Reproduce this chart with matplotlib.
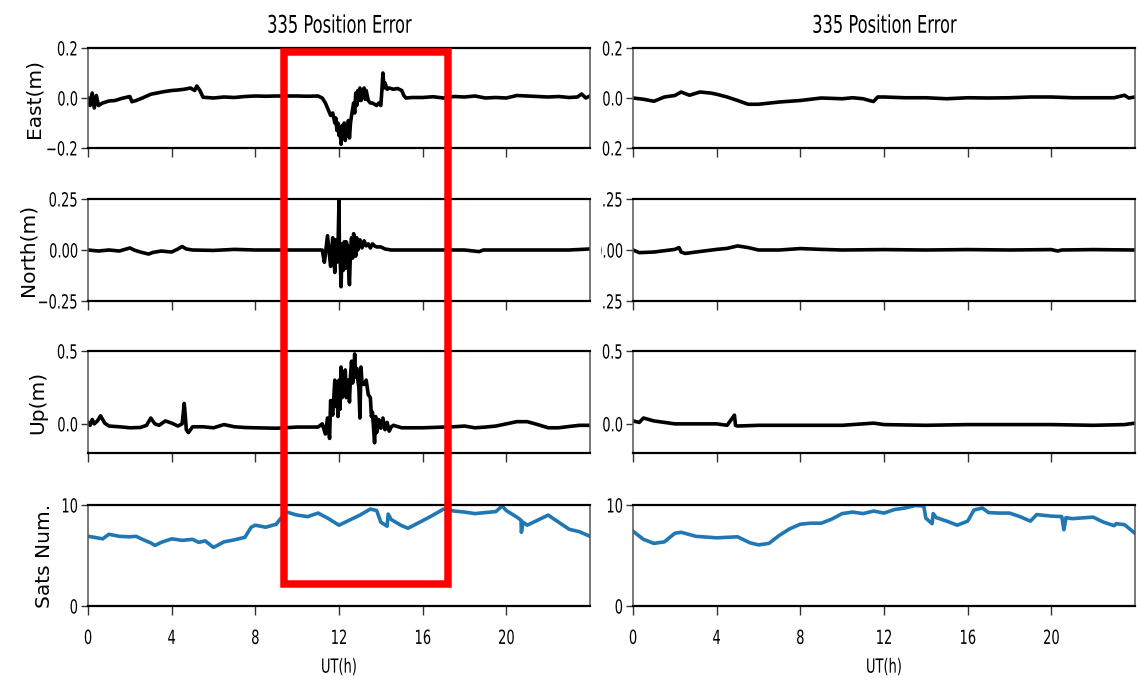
import numpy as np
import matplotlib
matplotlib.use("Agg")
import matplotlib.pyplot as plt
from matplotlib.patches import Rectangle
from matplotlib.patheffects import AbstractPathEffect
from matplotlib.transforms import Affine2D, Bbox, TransformedBbox, blended_transform_factory

# ----------------------------------------------------------------------
# data (hours, value)
# ----------------------------------------------------------------------
TITLE = "335 Position Error"
ROW_LABELS = ["East(m)", "North(m)", "Up(m)", "Sats Num."]
X_TICKS = [0, 4, 8, 12, 16, 20]
X_LABEL = "UT(h)"
Y_TICKS = [[-0.2, 0.0, 0.2], [-0.25, 0.0, 0.25], [0.0, 0.5], [0, 10]]
Y_LIMS = [(-0.2, 0.2), (-0.25, 0.25), (-0.2, 0.5), (0, 10)]
HIGHLIGHT_HOURS = (9.39, 17.22)

L_EAST_T = [0, 0.1, 0.2, 0.3, 0.4, 0.5, 0.7, 1.0, 1.3, 1.6,
            1.9, 2.0, 2.1, 2.3, 2.6, 3.0, 3.3, 3.6, 4.0, 4.3,
            4.6, 4.9, 5.1, 5.2, 5.35, 5.5, 6.0, 6.5, 7.0, 7.5,
            8.0, 8.5, 9.0, 9.5, 10.0, 10.5, 11.0, 11.2, 11.35, 11.5,
            11.6, 11.7, 11.8, 11.85, 11.9, 11.95, 12.0, 12.05, 12.1, 12.15,
            12.2, 12.25, 12.3, 12.35, 12.4, 12.45, 12.5, 12.55, 12.6, 12.7,
            12.75, 12.8, 12.85, 12.9, 12.95, 13.0, 13.05, 13.1, 13.2, 13.25,
            13.3, 13.4, 13.5, 13.6, 13.7, 13.8, 13.9, 14.0, 14.05, 14.1,
            14.15, 14.2, 14.3, 14.4, 14.6, 14.8, 15.0, 15.1, 15.2, 15.5,
            16, 16.5, 17, 17.5, 18, 18.5, 19, 19.5, 20, 20.5,
            21, 21.5, 22, 22.5, 23, 23.4, 23.6, 23.8, 24]
L_EAST_V = [0.0, -0.03, 0.02, -0.04, 0.01, -0.03, -0.02, -0.012, -0.01, -0.002,
            0.004, 0.006, -0.015, -0.01, 0.0, 0.015, 0.02, 0.025, 0.03, 0.032,
            0.035, 0.04, 0.03, 0.048, 0.03, 0.003, 0.0, 0.004, 0.002, 0.006,
            0.008, 0.007, 0.008, 0.008, 0.008, 0.007, 0.008, 0.0, -0.02, -0.05,
            -0.07, -0.06, -0.1, -0.08, -0.13, -0.1, -0.15, -0.12, -0.185, -0.11,
            -0.16, -0.1, -0.17, -0.12, -0.15, -0.09, -0.16, -0.1, -0.07, -0.02,
            -0.06, 0.02, -0.03, 0.03, -0.01, 0.04, -0.01, 0.02, 0.04, -0.005,
            0.03, -0.01, -0.02, -0.02, -0.025, -0.03, -0.02, -0.03, 0.03, 0.1,
            0.04, 0.06, 0.035, 0.04, 0.035, 0.038, 0.03, 0.01, 0.0, 0.002,
            0.002, 0.005, 0.0, 0.006, 0.004, 0.008, 0.0, 0.002, 0.0, 0.01,
            0.008, 0.006, 0.004, 0.006, 0.002, 0.004, 0.016, 0.0, 0.008]

L_NORTH_T = [0, 0.5, 1.0, 1.5, 2.0, 2.2, 2.5, 2.9, 3.1, 3.5,
             4.0, 4.3, 4.5, 4.7, 5.0, 6.0, 7.0, 8.0, 9.0, 10.0,
             11.0, 11.2, 11.3, 11.35, 11.45, 11.55, 11.6, 11.7, 11.75, 11.8,
             11.85, 11.9, 11.95, 12.0, 12.02, 12.05, 12.1, 12.15, 12.2, 12.25,
             12.3, 12.35, 12.4, 12.45, 12.5, 12.55, 12.6, 12.65, 12.7, 12.8,
             12.85, 12.9, 13.0, 13.1, 13.2, 13.3, 13.4, 13.5, 13.6, 13.7,
             13.8, 14.0, 14.2, 14.5, 15, 16, 17, 18, 18.7, 18.9,
             20, 21, 22, 23, 24]
L_NORTH_V = [0.0, -0.005, 0.0, -0.005, 0.01, 0.0, -0.01, -0.02, -0.012, -0.005,
             -0.01, 0.005, 0.017, 0.005, 0.0, -0.002, 0.003, 0.0, 0.0, 0.0,
             0.0, 0.0, -0.06, -0.02, 0.07, -0.03, -0.08, 0.06, -0.04, -0.11,
             0.05, -0.06, 0.0, 0.245, 0.0, -0.03, -0.18, 0.03, -0.1, 0.04,
             -0.09, 0.04, 0.02, -0.08, -0.17, 0.0, 0.06, -0.04, 0.08, -0.03,
             0.06, 0.0, 0.05, 0.01, 0.045, 0.02, 0.03, 0.01, 0.03, 0.02,
             0.015, 0.015, 0.005, 0.0, 0.0, 0.0, 0.0, 0.0, -0.008, 0.0,
             0.0, 0.0, 0.0, 0.0, 0.005]

L_UP_T = [0, 0.1, 0.2, 0.3, 0.45, 0.6, 0.8, 1.0, 1.5, 2.0,
          2.5, 2.8, 3.0, 3.2, 3.4, 3.7, 4.0, 4.3, 4.5, 4.6,
          4.65, 4.7, 4.8, 5.0, 5.5, 6.0, 6.5, 7.0, 7.5, 8.0,
          9.0, 10.0, 11.0, 11.2, 11.35, 11.45, 11.55, 11.6, 11.7, 11.8,
          11.85, 11.9, 11.95, 12.0, 12.05, 12.1, 12.15, 12.2, 12.25, 12.3,
          12.35, 12.4, 12.45, 12.5, 12.55, 12.6, 12.65, 12.7, 12.75, 12.8,
          12.85, 12.9, 12.95, 13.0, 13.05, 13.1, 13.2, 13.3, 13.4, 13.5,
          13.55, 13.6, 13.7, 13.75, 13.8, 13.9, 14.0, 14.1, 14.2, 14.3,
          14.4, 14.5, 14.6, 15.0, 16.0, 17.0, 17.5, 18.0, 18.5, 19.0,
          19.5, 20.0, 20.5, 21.0, 21.5, 22.0, 22.5, 23.0, 23.5, 24]
L_UP_V = [0.01, -0.01, 0.03, 0.0, 0.02, 0.055, 0.005, -0.015, -0.02, -0.027,
          -0.025, -0.01, 0.04, 0.0, -0.01, 0.02, 0.005, -0.015, 0.0, 0.14,
          0.06, -0.04, -0.06, -0.02, -0.02, -0.027, -0.005, -0.02, -0.025, -0.027,
          -0.03, -0.022, -0.022, 0.0, -0.07, 0.04, -0.1, 0.16, 0.06, 0.3,
          0.12, 0.26, 0.05, 0.3, 0.1, 0.39, 0.18, 0.2, 0.35, 0.37,
          0.18, 0.22, 0.3, 0.15, 0.33, 0.43, 0.28, 0.35, 0.48, 0.32,
          0.38, 0.3, 0.25, 0.04, 0.39, 0.28, 0.27, 0.3, 0.2, 0.18,
          0.05, 0.08, -0.13, 0.05, -0.06, 0.03, -0.03, 0.04, -0.04, 0.01,
          -0.05, -0.02, -0.01, -0.027, -0.027, -0.022, -0.02, -0.015, -0.027, -0.022,
          -0.015, 0.0, 0.015, 0.015, -0.005, -0.027, -0.027, -0.018, -0.01, -0.01]

L_SATS_T = [0, 0.3, 0.7, 1.0, 1.5, 2.0, 2.3, 2.6, 3.0, 3.2,
            3.5, 4.0, 4.5, 5.0, 5.3, 5.6, 6.0, 6.5, 7.0, 7.5,
            7.8, 8.0, 8.5, 9.0, 9.3, 9.5, 10.0, 10.5, 11.0, 11.5,
            12.0, 12.3, 12.5, 13.0, 13.5, 13.8, 14.0, 14.3, 14.35, 14.5,
            15.0, 15.3, 16.0, 16.5, 17.0, 17.5, 18.0, 18.5, 19.0, 19.5,
            19.8, 20.0, 20.5, 20.7, 20.72, 20.8, 21.0, 21.5, 22.0, 22.5,
            23.0, 23.5, 24]
L_SATS_V = [6.9, 6.8, 6.65, 7.1, 6.9, 6.85, 6.9, 6.6, 6.25, 6.0,
            6.3, 6.65, 6.5, 6.6, 6.3, 6.45, 5.8, 6.35, 6.55, 6.8,
            7.8, 8.0, 7.8, 8.1, 8.9, 9.3, 9.0, 8.85, 9.2, 8.65,
            8.0, 8.3, 8.5, 9.0, 9.6, 9.45, 8.3, 7.9, 9.1, 8.55,
            7.95, 7.7, 8.45, 9.0, 9.6, 9.4, 9.3, 9.15, 9.25, 9.35,
            9.9, 9.45, 8.8, 8.5, 7.3, 8.3, 8.0, 8.5, 9.0, 8.3,
            7.6, 7.35, 6.9]

R_EAST_T = [0, 0.5, 1.0, 1.5, 2.0, 2.3, 2.7, 3.2, 3.7, 4.0,
            4.5, 5.0, 5.5, 6.0, 7.0, 8.0, 9.0, 10.0, 10.5, 11.0,
            11.3, 11.5, 11.7, 12.0, 13.0, 14.0, 15.0, 16.0, 17.0, 18.0,
            19.0, 20.0, 21.0, 22.0, 23.0, 23.5, 23.7, 24]
R_EAST_V = [0.0, -0.005, -0.013, 0.004, 0.01, 0.024, 0.011, 0.024, 0.02, 0.015,
            0.004, -0.01, -0.025, -0.025, -0.016, -0.01, 0.0, -0.003, 0.001, -0.003,
            -0.01, -0.014, 0.004, 0.004, 0.001, 0.001, -0.003, 0.001, 0.0, 0.001,
            0.004, 0.004, 0.001, 0.001, 0.001, 0.011, 0.0, 0.004]

R_NORTH_T = [0, 0.3, 1.0, 2.0, 2.2, 2.3, 2.5, 3.0, 4.0, 4.5,
             5.0, 5.5, 6.0, 7.0, 8.0, 9.0, 10.0, 12.0, 14.0, 16.0,
             18.0, 20.0, 20.3, 20.5, 22.0, 24]
R_NORTH_V = [0.0, -0.013, -0.01, 0.003, 0.012, -0.01, -0.017, -0.01, 0.003, 0.008,
             0.02, 0.012, 0.0, 0.0, 0.007, 0.003, 0.0, 0.002, 0.0, 0.002,
             0.0, 0.002, -0.005, 0.0, 0.002, 0.0]

R_UP_T = [0, 0.3, 0.5, 1.0, 2.0, 3.0, 4.0, 4.5, 4.85, 4.9,
          5.0, 6.0, 8.0, 10.0, 11.5, 12.0, 14.0, 16.0, 18.0, 20.0,
          22.0, 23.5, 24]
R_UP_V = [0.02, 0.01, 0.04, 0.02, 0.0, 0.0, 0.0, -0.01, 0.06, -0.01,
          -0.015, -0.01, -0.01, -0.01, 0.005, -0.005, -0.01, -0.005, -0.005, -0.005,
          -0.01, -0.005, 0.005]

R_SATS_T = [0, 0.5, 1.0, 1.5, 2.0, 2.3, 3.0, 4.0, 5.0, 5.2,
            5.6, 6.0, 6.5, 7.0, 7.5, 8.0, 8.5, 9.0, 9.5, 10.0,
            10.5, 11.0, 11.5, 12.0, 12.5, 13.0, 13.5, 13.9, 14.0, 14.3,
            14.35, 14.5, 15.0, 15.5, 16.0, 16.3, 16.7, 17.0, 17.5, 18.0,
            18.5, 19.0, 19.3, 20.0, 20.5, 20.6, 20.7, 21.0, 22.0, 22.5,
            23.0, 23.1, 23.5, 24]
R_SATS_V = [7.4, 6.6, 6.2, 6.35, 7.2, 7.3, 6.9, 6.75, 6.85, 6.65,
            6.25, 6.05, 6.2, 7.0, 7.65, 8.1, 8.2, 8.2, 8.6, 9.15,
            9.3, 9.15, 9.4, 9.2, 9.55, 9.7, 9.95, 9.9, 8.7, 8.15,
            9.15, 8.75, 8.4, 8.0, 8.4, 9.5, 9.7, 9.25, 9.2, 9.2,
            8.85, 8.4, 9.05, 8.9, 8.85, 7.55, 8.75, 8.65, 8.8, 8.3,
            7.95, 8.15, 8.05, 7.2]

LEFT = [(L_EAST_T, L_EAST_V), (L_NORTH_T, L_NORTH_V), (L_UP_T, L_UP_V), (L_SATS_T, L_SATS_V)]
RIGHT = [(R_EAST_T, R_EAST_V), (R_NORTH_T, R_NORTH_V), (R_UP_T, R_UP_V), (R_SATS_T, R_SATS_V)]


# ----------------------------------------------------------------------
# the reference text looks horizontally squeezed: squeeze the glyphs
# at draw time, keeping them as normal text objects
# ----------------------------------------------------------------------
class SqueezeX(AbstractPathEffect):
    def __init__(self, sx=0.67, anchor="center"):
        super().__init__()
        self.sx = sx
        self.anchor = anchor

    def draw_path(self, renderer, gc, tpath, affine, rgbFace=None):
        ext = tpath.get_extents(affine)
        cx = {"left": ext.x0, "center": 0.5 * (ext.x0 + ext.x1), "right": ext.x1}[self.anchor]
        squeeze = Affine2D().translate(-cx, 0).scale(self.sx, 1.0).translate(cx, 0)
        renderer.draw_path(gc, tpath, affine + squeeze, rgbFace)


# ----------------------------------------------------------------------
# layout
# ----------------------------------------------------------------------
W, H = 1137, 683
COL_X = [88 / W, 633 / W]
COL_W = 502 / W
ROWS = [(48, 148), (199, 301), (351, 453), (505, 606)]   # pixel top/bottom
YLABEL_X = [-0.088, -0.1, -0.082, -0.068]                  # axes coords

fig = plt.figure(figsize=(W / 100, H / 100), dpi=100)


def style_axes(ax, row, is_bottom):
    ax.set_xlim(0, 24)
    ax.set_ylim(*Y_LIMS[row])
    ax.set_xticks(X_TICKS)
    ax.set_yticks(Y_TICKS[row])
    for side in ["top", "bottom"]:
        ax.spines[side].set_linewidth(1.6)
        ax.spines[side].set_color("black")
    for side in ["left", "right"]:
        ax.spines[side].set_linewidth(1.1)
        ax.spines[side].set_color("#555555")
    ax.tick_params(axis="x", direction="out", length=6.5, width=1.0, pad=10,
                   color="#333333", labelbottom=is_bottom, labelsize=14)
    ax.tick_params(axis="y", direction="out", length=5, width=1.0, pad=2,
                   color="#333333", labelsize=14)
    for lab in ax.get_xticklabels():
        lab.set_path_effects([SqueezeX(anchor="center")])
    for lab in ax.get_yticklabels():
        lab.set_path_effects([SqueezeX(anchor="right")])


axes = {}
for col, series in enumerate([LEFT, RIGHT]):
    for row, (t, v) in enumerate(series):
        top, bot = ROWS[row]
        ax = fig.add_axes([COL_X[col], 1 - bot / H, COL_W, (bot - top) / H])
        color = "#1f77b4" if row == 3 else "black"
        ax.plot(t, v, color=color, linewidth=2.6)
        style_axes(ax, row, row == 3)
        if row == 0:
            ttl = ax.set_title(TITLE, fontsize=17.5, pad=11)
            ttl.set_path_effects([SqueezeX(anchor="center")])
        if row == 3:
            xl = ax.set_xlabel(X_LABEL, fontsize=14, labelpad=7)
            xl.set_path_effects([SqueezeX(anchor="center")])
        if col == 0:
            ax.set_ylabel(ROW_LABELS[row], fontsize=14.5)
            ax.yaxis.set_label_coords(YLABEL_X[row], 0.5)
        axes[(col, row)] = ax

# right-hand tick labels are cut off on their left side in the reference
clip = TransformedBbox(Bbox.from_extents(601 / W, 0, 1, 1), fig.transFigure)
for row in range(4):
    for lab in axes[(1, row)].get_yticklabels():
        lab.set_clip_box(clip)
        lab.set_clip_on(True)

# red highlight box spanning the left column
blend = blended_transform_factory(axes[(0, 3)].transData, fig.transFigure)
y0, y1 = 1 - 584 / H, 1 - 52 / H
box = Rectangle((HIGHLIGHT_HOURS[0], y0), HIGHLIGHT_HOURS[1] - HIGHLIGHT_HOURS[0], y1 - y0,
                transform=blend, fill=False, edgecolor="#ff0000", linewidth=5.4,
                joinstyle="miter", clip_on=False, zorder=10)
fig.add_artist(box)

fig.savefig("out.png", dpi=100)
